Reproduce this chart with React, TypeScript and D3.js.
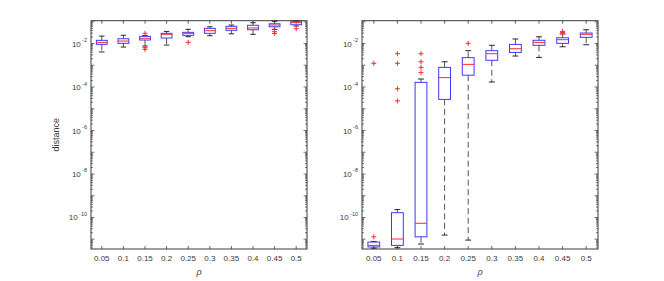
import React from 'react';
import * as d3 from 'd3';

const categories = ['0.05', '0.1', '0.15', '0.2', '0.25', '0.3', '0.35', '0.4', '0.45', '0.5'];
const yTickExps = [-2, -4, -6, -8, -10];

// Left panel
const leftLow = [4.1e-3, 6.9e-3, 7.7e-3, 8.5e-3, 2.06e-2, 2.29e-2, 2.8e-2, 2.65e-2, 4.5e-2, 6.4e-2];
const leftQ1 = [9.2e-3, 1.02e-2, 1.45e-2, 1.79e-2, 2.38e-2, 2.95e-2, 4.05e-2, 4.3e-2, 5.9e-2, 7.3e-2];
const leftMed = [1.13e-2, 1.3e-2, 1.74e-2, 2.65e-2, 2.95e-2, 3.9e-2, 5.0e-2, 5.2e-2, 7.1e-2, 9.1e-2];
const leftQ3 = [1.4e-2, 1.66e-2, 2.14e-2, 2.95e-2, 3.27e-2, 5.0e-2, 6.2e-2, 6.9e-2, 8.1e-2, 0.105];
const leftHigh = [2.2e-2, 2.4e-2, 2.34e-2, 3.6e-2, 4.5e-2, 5.9e-2, 7.1e-2, 9.1e-2, 0.105, 0.11];
const leftOutliers = [[], [], [2.95e-2, 6.5e-3, 5.4e-3], [], [1.13e-2], [], [], [], [3.5e-2, 2.9e-2], [4.8e-2]];

// Right panel
const rightLow = [3.9e-12, 4.1e-12, 6.0e-12, 1.55e-11, 9.1e-12, 1.7e-4, 2.66e-3, 2.3e-3, 7.1e-3, 8.8e-3];
const rightQ1 = [4.4e-12, 5.2e-12, 1.29e-11, 2.7e-5, 3.5e-4, 1.7e-3, 3.9e-3, 8.3e-3, 1.02e-2, 1.93e-2];
const rightMed = [5.2e-12, 1.02e-11, 5.4e-11, 2.7e-4, 1.1e-3, 3.4e-3, 5.75e-3, 1.13e-2, 1.5e-2, 2.65e-2];
const rightQ3 = [7.4e-12, 1.66e-10, 1.64e-4, 8.0e-4, 2.24e-3, 4.7e-3, 9.1e-3, 1.41e-2, 1.84e-2, 3.04e-2];
const rightHigh = [7.9e-12, 2.3e-10, 2.34e-4, 1.45e-3, 4.7e-3, 8.3e-3, 1.62e-2, 2.04e-2, 2.75e-2, 4.3e-2];
const rightOutliers = [
  [1.29e-11, 1.23e-3],
  [3.4e-3, 1.23e-3, 8.3e-5, 2.3e-5],
  [3.4e-3, 1.45e-3, 8.0e-4, 4.6e-4],
  [],
  [1.02e-2],
  [], [], [],
  [3.6e-2, 3.2e-2],
  [],
];

const FONT = '"Liberation Sans", Arial, Helvetica, sans-serif';
const AXIS = '#3a3a3a';
const TOP = 20.7;
const BOTTOM = 249;

type PanelProps = {
  x0: number; x1: number;
  low: number[]; q1: number[]; med: number[]; q3: number[]; high: number[]; outliers: number[][];
  ylabel?: string;
};

function Panel({ x0, x1, low, q1, med, q3, high, outliers, ylabel }: PanelProps) {
  const x = d3.scaleBand<string>().domain(categories).range([x0, x1]).padding(0);
  const y = d3.scaleLog().domain([Math.pow(10, -11.45), Math.pow(10, -0.95)]).range([BOTTOM, TOP]);
  const bw = x.bandwidth();
  const boxW = bw * 0.5;
  const capW = bw * 0.25;

  const minorTicks: { v: number; major: boolean }[] = [];
  for (let e = -12; e <= 0; e++) {
    for (let k = 1; k <= 9; k++) {
      const v = k * Math.pow(10, e);
      const yy = y(v);
      if (yy >= TOP && yy <= BOTTOM) minorTicks.push({ v, major: k === 1 });
    }
  }

  return (
    <g>
      <rect x={x0} y={TOP} width={x1 - x0} height={BOTTOM - TOP} fill="none" stroke={AXIS} strokeWidth={1} />
      {minorTicks.map((t, i) => {
        const yy = y(t.v);
        const len = t.major ? 3.5 : 2;
        return (
          <g key={'yt' + i}>
            <line x1={x0} x2={x0 + len} y1={yy} y2={yy} stroke={AXIS} strokeWidth={0.7} />
            <line x1={x1} x2={x1 - len} y1={yy} y2={yy} stroke={AXIS} strokeWidth={0.7} />
          </g>
        );
      })}
      {categories.map((c) => {
        const cx = (x(c) as number) + bw / 2;
        return (
          <g key={'xt' + c}>
            <line x1={cx} x2={cx} y1={BOTTOM} y2={BOTTOM - 3} stroke={AXIS} strokeWidth={0.8} />
            <line x1={cx} x2={cx} y1={TOP} y2={TOP + 3} stroke={AXIS} strokeWidth={0.8} />
            <text x={cx} y={261} textAnchor="middle" fontSize={8} fontFamily={FONT} fill={AXIS}>{c}</text>
          </g>
        );
      })}
      {yTickExps.map((e) => {
        const yy = y(Math.pow(10, e));
        const expStr = String(e);
        const expW = expStr.length * 3.1;
        return (
          <g key={'yl' + e}>
            <text x={x0 - 4 - expW} y={yy + 3} textAnchor="end" fontSize={8} fontFamily={FONT} fill={AXIS}>10</text>
            <text x={x0 - 4} y={yy - 1.5} textAnchor="end" fontSize={5.5} fontFamily={FONT} fill={AXIS}>{expStr}</text>
          </g>
        );
      })}
      <text x={(x0 + x1) / 2} y={275} textAnchor="middle" fontSize={9} fontStyle="italic" fontFamily={FONT} fill={AXIS}>ρ</text>
      {ylabel && (
        <text transform={`translate(59,${(TOP + BOTTOM) / 2}) rotate(-90)`} textAnchor="middle" fontSize={9} fontFamily={FONT} fill={AXIS}>{ylabel}</text>
      )}
      {categories.map((c, i) => {
        const cx = (x(c) as number) + bw / 2;
        const yq1 = y(q1[i]);
        const yq3 = y(q3[i]);
        const ym = y(med[i]);
        const ylo = y(low[i]);
        const yhi = Math.max(y(high[i]), TOP);
        return (
          <g key={'b' + c}>
            <line x1={cx} x2={cx} y1={yq3} y2={yhi} stroke="#555" strokeWidth={1} strokeDasharray="6,3.5" />
            <line x1={cx} x2={cx} y1={yq1} y2={ylo} stroke="#555" strokeWidth={1} strokeDasharray="6,3.5" />
            <line x1={cx - capW / 2} x2={cx + capW / 2} y1={yhi} y2={yhi} stroke="#111" strokeWidth={0.9} />
            <line x1={cx - capW / 2} x2={cx + capW / 2} y1={ylo} y2={ylo} stroke="#111" strokeWidth={0.9} />
            <rect x={cx - boxW / 2} y={yq3} width={boxW} height={Math.max(yq1 - yq3, 0.5)} fill="none" stroke="#3a3aff" strokeWidth={1} />
            <line x1={cx - boxW / 2} x2={cx + boxW / 2} y1={ym} y2={ym} stroke="#ff2a2a" strokeWidth={1} />
            {outliers[i].map((o, j) => {
              const oy = y(o);
              return (
                <g key={'o' + j}>
                  <line x1={cx - 2.5} x2={cx + 2.5} y1={oy} y2={oy} stroke="#ff2a2a" strokeWidth={1} />
                  <line x1={cx} x2={cx} y1={oy - 2.5} y2={oy + 2.5} stroke="#ff2a2a" strokeWidth={1} />
                </g>
              );
            })}
          </g>
        );
      })}
    </g>
  );
}

export default function App() {
  return (
    <svg width={664} height={281} style={{ position: 'absolute', left: 0, top: 0, background: '#fff' }}>
      <rect width={664} height={281} fill="#fff" />
      <Panel x0={91} x1={307} low={leftLow} q1={leftQ1} med={leftMed} q3={leftQ3} high={leftHigh} outliers={leftOutliers} ylabel="distance" />
      <Panel x0={362} x1={598} low={rightLow} q1={rightQ1} med={rightMed} q3={rightQ3} high={rightHigh} outliers={rightOutliers} />
    </svg>
  );
}
